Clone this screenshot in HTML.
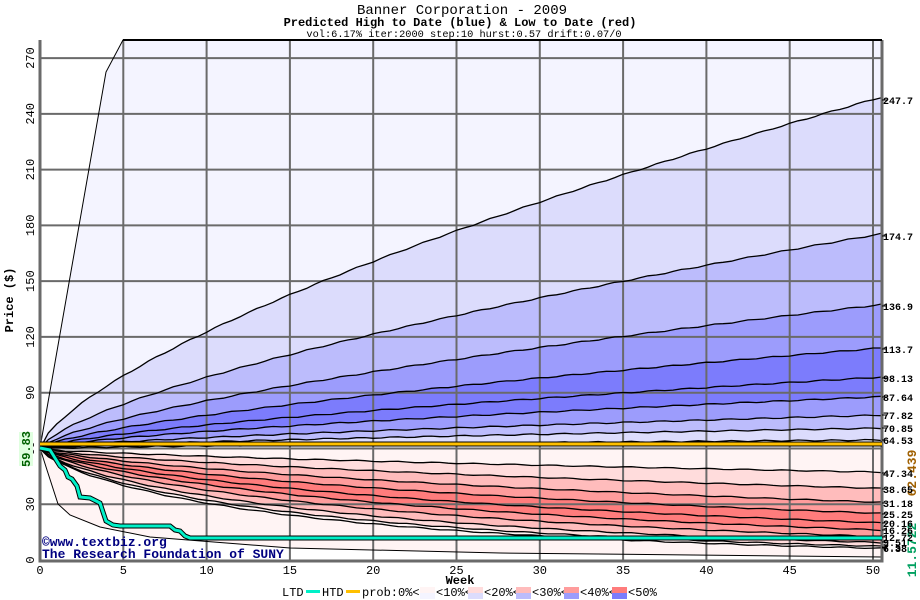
<!DOCTYPE html>
<html><head><meta charset="utf-8">
<style>
html,body{margin:0;padding:0;background:#fff;width:920px;height:600px;overflow:hidden}
svg{display:block}
text{font-family:"Liberation Mono","DejaVu Sans Mono",monospace}
</style></head>
<body>
<svg id="s" width="920" height="600" xmlns="http://www.w3.org/2000/svg">
<rect width="920" height="600" fill="#fff"/>
<g id="fills"></g>
<g id="grid" stroke="#6a6a6a" stroke-width="2"></g>
<g id="lines" fill="none" stroke="#000" stroke-width="1.3"></g>
<g id="top"></g>
<text x="462" y="14" font-size="14" text-anchor="middle">Banner Corporation - 2009</text>
<text x="460" y="26" font-size="12" font-weight="bold" text-anchor="middle">Predicted High to Date (blue) &amp;  Low to Date (red)</text>
<text x="464" y="37" font-size="10.3" text-anchor="middle">vol:6.17% iter:2000 step:10 hurst:0.57 drift:0.07/0</text>
<text transform="translate(13,300) rotate(-90)" font-size="12" font-weight="bold" text-anchor="middle">Price ($)</text>
<text x="460" y="584" font-size="12" font-weight="bold" text-anchor="middle">Week</text>
<text x="42" y="546" font-size="13" font-weight="bold" fill="#000080">©www.textbiz.org</text>
<text x="42" y="558" font-size="13" font-weight="bold" fill="#000080">The Research Foundation of SUNY</text>
<g id="labels"></g>
</svg>
<script>
const NS="http://www.w3.org/2000/svg";
const X=w=>40+w*16.66, Y=p=>560-p*1.859;
const P0=59.83;
const up=[247.7,174.7,136.9,113.7,98.13,87.64,77.82,70.85,64.53];
const lo=[47.34,38.65,31.18,25.25,20.16,16.26,12.72,9.51,7.5,6.38];
const W=50.5;
function upc(V){let a=[];for(let w=0;w<=W;w+=0.5){let f=Math.pow(w/50,0.68);let p=P0+(V-P0)*f;let j=(w>0)?Math.sin(w*3.1+V)*0.6:0;a.push([X(w),Y(p)+j]);}return a;}
function loc(V){let a=[];for(let w=0;w<=W;w+=0.5){let f=Math.pow(w/50,0.75);let p=P0*Math.exp(Math.log(V/P0)*f);let j=(w>0)?Math.sin(w*2.7+V)*0.5:0;a.push([X(w),Y(p)+j]);}return a;}
const outerUp=[[40,448],[106,72],[123,40],[882,40]];
const outerLo=[[40,448],[47,470],[58,504],[70,515],[100,527],[150,537],[290,548],[500,553],[882,557]];
const pts=a=>a.map(p=>p[0].toFixed(1)+","+p[1].toFixed(1)).join(" ");
const el=(t,at,par)=>{let e=document.createElementNS(NS,t);for(let k in at)e.setAttribute(k,at[k]);document.getElementById(par).appendChild(e);return e;};
const bc=["#f4f4ff","#dcdcfc","#bcbcfc","#9c9cfc","#7c7cfc"];
const rc=["#fff4f4","#ffdcdc","#ffbcbc","#ff9c9c","#ff7c7c"];
const ucol=[bc[1],bc[2],bc[3],bc[4],bc[4],bc[3],bc[2],bc[1],bc[0]];
el("polygon",{points:pts(outerUp)+" 882,448 40,448",fill:bc[0]},"fills");
up.forEach((v,i)=>{let c=upc(v);el("polygon",{points:pts(c)+" 882,448 40,448",fill:ucol[i]},"fills");});
el("polygon",{points:pts(outerLo)+" 882,448 40,448",fill:rc[0]},"fills");
const lcol=[rc[0],rc[1],rc[2],rc[3],rc[4],rc[4],rc[3],rc[2],rc[1],rc[0]];
let prev=[[40,448],[882,448]];
lo.forEach((v,i)=>{let c=loc(v);el("polygon",{points:pts(prev)+" "+pts(c.slice().reverse()),fill:lcol[i]},"fills");prev=c;});
for(let w=5;w<=50;w+=5)el("line",{x1:X(w),y1:40,x2:X(w),y2:560},"grid");
for(let p=30;p<=270;p+=30)el("line",{x1:40,y1:Y(p),x2:882,y2:Y(p)},"grid");
el("polyline",{points:pts(outerUp),"stroke-width":1},"lines");
el("polyline",{points:pts(outerLo),"stroke-width":1},"lines");
up.forEach(v=>el("polyline",{points:pts(upc(v))},"lines"));
lo.forEach(v=>el("polyline",{points:pts(loc(v))},"lines"));
el("polyline",{points:"40,40 40,561 882,561 882,40",fill:"none",stroke:"#6a6a6a","stroke-width":3},"top");
el("line",{x1:123,y1:40,x2:882,y2:40,stroke:"#000","stroke-width":2},"top");
el("line",{x1:40,y1:444,x2:882,y2:444,stroke:"#000","stroke-width":5},"top");
el("line",{x1:40,y1:444,x2:882,y2:444,stroke:"#ffc000","stroke-width":3},"top");
const ltd=[[40,448],[50,450],[55,458],[60,466],[65,470],[68,477],[72,479],[77,486],[80,497],[90,498],[100,503],[106,521],[113,525],[120,526],[170,526],[175,530],[180,531],[185,536],[190,538],[882,538]];
el("polyline",{points:pts(ltd),fill:"none",stroke:"#000","stroke-width":5},"top");
el("polyline",{points:pts(ltd),fill:"none",stroke:"#00f0c8","stroke-width":3},"top");
for(let w=0;w<=50;w+=5){let t=el("text",{x:X(w),y:574,"font-size":12,"text-anchor":"middle"},"labels");t.textContent=w;}
for(let p=0;p<=270;p+=30){let t=el("text",{transform:`translate(34,${Y(p)}) rotate(-90)`,"font-size":12,"text-anchor":"middle"},"labels");t.textContent=p;}
el("rect",{x:19,y:432,width:14,height:34,fill:"#e0ffe0"},"labels");
let t=el("text",{transform:"translate(30,449) rotate(-90)","font-size":12,"font-weight":"bold","text-anchor":"middle",fill:"#006000"},"labels");t.textContent="59.83";
t=el("text",{transform:"translate(916,473) rotate(-90)","font-size":13,"font-weight":"bold","text-anchor":"middle",fill:"#a06000"},"labels");t.textContent="62.439";
t=el("text",{transform:"translate(916,550) rotate(-90)","font-size":13,"font-weight":"bold","text-anchor":"middle",fill:"#00a060"},"labels");t.textContent="11.5722";
const rl=[[247.7,100],[174.7,236],[136.9,306],[113.7,349],[98.13,378],[87.64,397],[77.82,415],[70.85,428],[64.53,440],[47.34,473],[38.65,489],[31.18,503],[25.25,514],[20.16,523],[16.26,530],[12.72,537],[9.51,542],[7.5,547],[6.38,548]];
rl.forEach(r=>{el("line",{x1:882,y1:r[1],x2:887,y2:r[1],stroke:"#000"},"labels");let t=el("text",{x:883,y:r[1]+4,"font-size":10,"font-weight":"bold"},"labels");t.textContent=r[0];});
let tx=el("text",{x:282,y:596,"font-size":12},"labels");tx.textContent="LTD";
el("rect",{x:306,y:590,width:14,height:3,fill:"#00f0c8"},"labels");
tx=el("text",{x:322,y:596,"font-size":12},"labels");tx.textContent="HTD";
el("rect",{x:346,y:590,width:14,height:3,fill:"#ffc000"},"labels");
tx=el("text",{x:362,y:596,"font-size":12},"labels");tx.textContent="prob:0%<";
const labs=["<10%<","<20%<","<30%<","<40%<","<50%"];
let lx=420;
for(let i=0;i<5;i++){el("rect",{x:lx,y:587,width:15,height:6,fill:rc[i]},"labels");el("rect",{x:lx,y:593,width:15,height:6,fill:bc[i]},"labels");
let tt=el("text",{x:lx+16,y:596,"font-size":12},"labels");tt.textContent=labs[i];lx+=48;}
</script>
</body></html>
